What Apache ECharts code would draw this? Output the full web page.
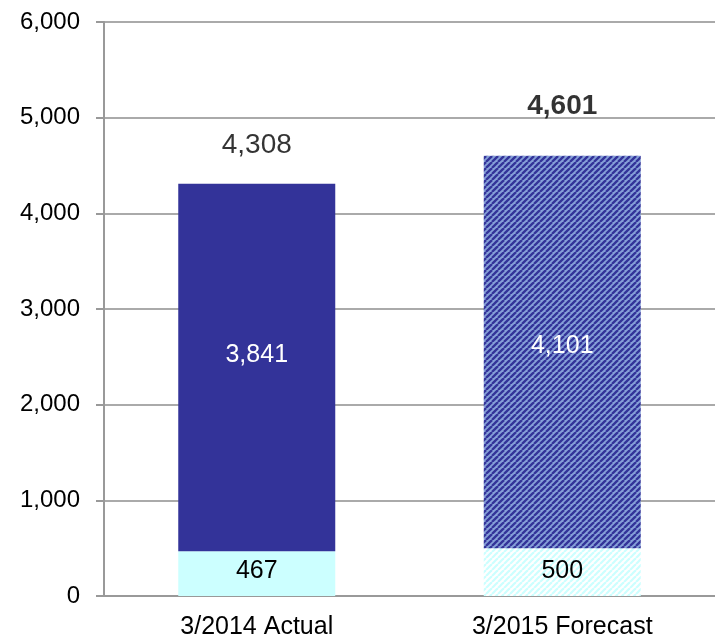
<!DOCTYPE html>
<html><head><meta charset="utf-8">
<script src="https://cdn.jsdelivr.net/npm/echarts@6/dist/echarts.min.js"></script>
<style>html,body{margin:0;padding:0;background:#fff}#c{width:715px;height:640px}</style>
</head><body><div id="c"></div>
<script>
var categories = ['3/2014 Actual', '3/2015 Forecast'];
var baseValues = [467, 500];
var mainValues = [3841, 4101];
var totals = [4308, 4601];
var yTicks = [0, 1000, 2000, 3000, 4000, 5000, 6000];

function stripe(bg, fg, n, w) {
  var c = document.createElement('canvas');
  c.width = n; c.height = n;
  var x = c.getContext('2d');
  x.fillStyle = bg; x.fillRect(0, 0, n, n);
  x.strokeStyle = fg; x.lineWidth = w;
  for (var k = -n; k <= n; k += n) {
    x.beginPath(); x.moveTo(k, n); x.lineTo(k + n, 0); x.stroke();
  }
  return { image: c, repeat: 'repeat' };
}
var darkHatch = stripe('#86a0d8', '#333399', 6, 2.3);
var lightHatch = stripe('#ffffff', '#ccffff', 6, 2.2);

var fmt = function (v) { return v.toLocaleString('en-US'); };
var font = 'Liberation Sans, Arial, sans-serif';

var chart = echarts.init(document.getElementById('c'));
chart.setOption({
  animation: false,
  grid: { left: 104, width: 620, top: 22, bottom: 42 },
  xAxis: {
    type: 'category', data: categories,
    axisLine: { lineStyle: { color: '#999', width: 2 } },
    axisTick: { show: false },
    axisLabel: { color: '#000', fontSize: 25, fontFamily: font, margin: 19 }
  },
  yAxis: {
    type: 'value', min: yTicks[0], max: yTicks[yTicks.length - 1], interval: 1000,
    axisLine: { show: true, lineStyle: { color: '#999', width: 2 } },
    axisTick: { show: true, length: 8, lineStyle: { color: '#999', width: 2 } },
    splitLine: { lineStyle: { color: '#aaa', width: 2 } },
    axisLabel: { color: '#000', fontSize: 24, fontFamily: font, margin: 24, formatter: function (v) { return fmt(v); } }
  },
  series: [
    {
      type: 'bar', stack: 's', barWidth: 157,
      data: baseValues.map(function (v, i) {
        return { value: v, itemStyle: { color: i === 0 ? '#ccffff' : lightHatch },
          label: { offset: [0, i === 0 ? -3 : -1] } };
      }),
      label: { show: true, position: 'inside', color: '#000', fontSize: 25, fontFamily: font, formatter: function (p) { return fmt(p.value); } }
    },
    {
      type: 'bar', stack: 's', barWidth: 157,
      data: mainValues.map(function (v, i) {
        return { value: v, itemStyle: { color: i === 0 ? '#333399' : darkHatch },
          label: { offset: [0, i === 0 ? -12 : -6] } };
      }),
      label: { show: true, position: 'inside', color: '#fff', fontSize: 25, fontFamily: font, formatter: function (p) { return fmt(p.value); } }
    },
    {
      type: 'scatter', symbolSize: 0, silent: true,
      data: totals.map(function (v, i) {
        return { value: v, label: { offset: [0, i === 0 ? -20 : -31], fontWeight: i === 0 ? 'normal' : 'bold' } };
      }),
      label: { show: true, position: 'top', color: '#000', fontSize: 28, fontFamily: font, formatter: function (p) { return fmt(p.value); } }
    }
  ]
});
</script></body></html>
